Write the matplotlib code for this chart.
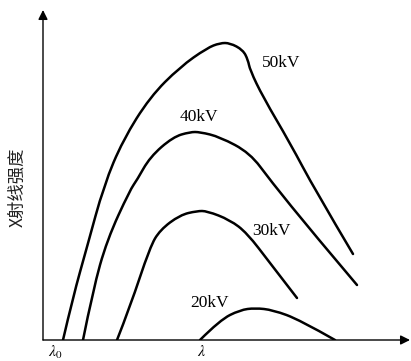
import matplotlib
matplotlib.use("Agg")
import matplotlib.pyplot as plt
from matplotlib.path import Path
from matplotlib.patches import PathPatch

# curves: wavelength (arbitrary units) vs intensity
kv_labels = ["50kV", "40kV", "30kV", "20kV"]

lam_50 = [20, 30, 44, 61, 80, 107, 137, 164, 177, 187, 200, 205, 207, 220, 247, 272, 310]
int_50 = [0, 43, 93, 155, 200, 243, 273, 292, 297, 297, 290, 280, 270, 243, 197, 150, 86]

lam_40 = [40, 50, 64, 87, 94, 107, 130, 147, 157, 177, 207, 227, 270, 314]
int_40 = [0, 50, 100, 150, 160, 183, 203, 208, 208, 203, 187, 160, 107, 55]

lam_30 = [74, 87, 107, 117, 137, 154, 164, 187, 204, 227, 254]
int_30 = [0, 33, 93, 110, 125, 129, 129, 120, 107, 77, 42]

lam_20 = [157, 177, 197, 212, 230, 257, 292]
int_20 = [0, 20, 30, 32, 30, 20, 0]

label_pos = {"50kV": (219, 277), "40kV": (137, 223), "30kV": (209, 109), "20kV": (147, 37)}
tick_lams = [12, 159]
tick_text = [r"$\lambda_0$", r"$\lambda$"]


def smooth_path(xs, ys):
    # quadratic bezier through midpoints, using the read points as control points
    pts = list(zip(xs, ys))
    verts = [pts[0]]
    codes = [Path.MOVETO]
    for i in range(1, len(pts) - 1):
        if i == len(pts) - 2:
            end = pts[-1]
        else:
            end = ((pts[i][0] + pts[i + 1][0]) / 2, (pts[i][1] + pts[i + 1][1]) / 2)
        verts += [pts[i], end]
        codes += [Path.CURVE3, Path.CURVE3]
    return Path(verts, codes)


plt.rcParams["mathtext.fontset"] = "stix"

fig = plt.figure(figsize=(4.11, 3.61), dpi=100)
ax = fig.add_axes([43 / 411, 21 / 361, 368 / 411, 330 / 361])
ax.set_xlim(0, 368)
ax.set_ylim(0, 330)
for s in ax.spines.values():
    s.set_visible(False)
ax.set_xticks([]); ax.set_yticks([])

for xs, ys in [(lam_50, int_50), (lam_40, int_40), (lam_30, int_30), (lam_20, int_20)]:
    ax.add_patch(PathPatch(smooth_path(xs, ys), fill=False, lw=1.8, color="black",
                           capstyle="round", joinstyle="round"))

for lab in kv_labels:
    x, y = label_pos[lab]
    ax.text(x, y, lab, fontsize=12.5, family="Liberation Serif", va="center", ha="left")

# axes with arrows
ax.annotate("", xy=(367, 0), xytext=(0, 0), annotation_clip=False,
            arrowprops=dict(arrowstyle="-|>", color="black", lw=1.0,
                            mutation_scale=14, shrinkA=0, shrinkB=0))
ax.annotate("", xy=(0, 330), xytext=(0, 0), annotation_clip=False,
            arrowprops=dict(arrowstyle="-|>", color="black", lw=1.0,
                            mutation_scale=14, shrinkA=0, shrinkB=0))

for x, t in zip(tick_lams, tick_text):
    ax.text(x, -4, t, fontsize=11.5, ha="center", va="top", clip_on=False)

ax.text(-26, 153, "X射线强度", rotation=90, fontsize=12.5, ha="center", va="center",
        family=["Noto Sans CJK SC", "DejaVu Sans"], color="#222222")

fig.savefig("out.png", dpi=100)
